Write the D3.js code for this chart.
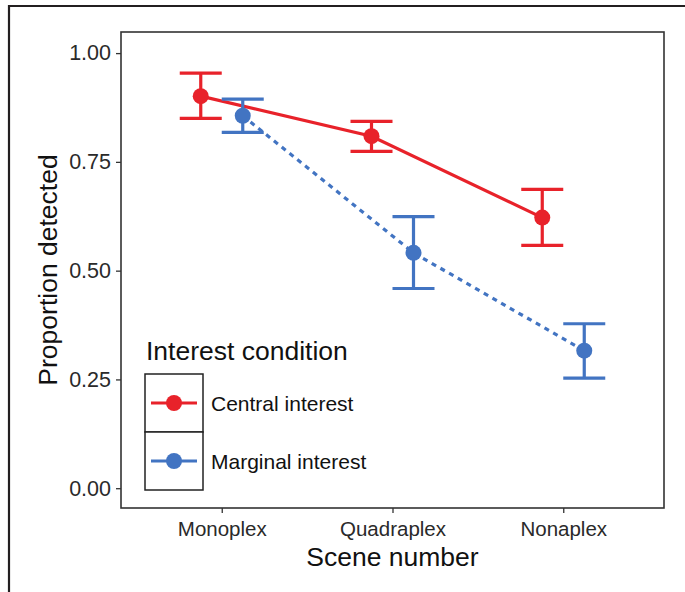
<!DOCTYPE html>
<html><head><meta charset="utf-8">
<script src="https://cdn.jsdelivr.net/npm/d3@7"></script>
<style>
html,body{margin:0;padding:0;background:#fff;}
svg{display:block;font-family:"Liberation Sans",Arial,sans-serif;}
</style></head>
<body>
<svg id="chart" width="685" height="592"></svg>
<script>
const scenes = ["Monoplex", "Quadraplex", "Nonaplex"];
const groups = ["Central interest", "Marginal interest"];
const centralMean = [0.901, 0.809, 0.622];
const centralLow  = [0.850, 0.774, 0.558];
const centralHigh = [0.954, 0.843, 0.687];
const marginalMean = [0.856, 0.541, 0.316];
const marginalLow  = [0.818, 0.459, 0.253];
const marginalHigh = [0.894, 0.624, 0.378];
const yTicks = [0, 0.25, 0.5, 0.75, 1.0];

const colors = {"Central interest": "#e8222a", "Marginal interest": "#4274c2"};
const series = [
  {name: groups[0], mean: centralMean, low: centralLow, high: centralHigh, dash: null, off: -1},
  {name: groups[1], mean: marginalMean, low: marginalLow, high: marginalHigh, dash: "5,5", off: 1}
];

const svg = d3.select("#chart");
// outer figure frame
svg.append("path").attr("d", "M9,592 L9,6 L685,6")
  .attr("fill", "none").attr("stroke", "#231f20").attr("stroke-width", 2.2);

const L = 121, R = 664, T = 32, B = 508;
const x = d3.scalePoint().domain(scenes).range([L, R]).padding(0.59);
const y = d3.scaleLinear().domain([-0.0455, 1.0485]).range([B, T]);
const dodge = 21;

// panel
svg.append("rect").attr("x", L).attr("y", T).attr("width", R - L).attr("height", B - T)
  .attr("fill", "#fff").attr("stroke", "#333").attr("stroke-width", 1.6);

// axes
const yAxis = svg.append("g").attr("transform", `translate(${L},0)`)
  .call(d3.axisLeft(y).tickValues(yTicks).tickFormat(d3.format(".2f")).tickSize(5).tickPadding(5));
const xAxis = svg.append("g").attr("transform", `translate(0,${B})`)
  .call(d3.axisBottom(x).tickSize(5).tickPadding(8));
[yAxis, xAxis].forEach(a => {
  a.select(".domain").remove();
  a.selectAll(".tick line").attr("stroke", "#333").attr("stroke-width", 1.3);
  a.selectAll(".tick text").attr("fill", "#2a2a2a")
    .style("font-family", "Liberation Sans, Arial, sans-serif");
});
yAxis.selectAll(".tick text").style("font-size", "21.5px");
xAxis.selectAll(".tick text").style("font-size", "20.5px");

// axis titles
svg.append("text").attr("x", (L + R) / 2).attr("y", 566).attr("text-anchor", "middle")
  .style("font-size", "26.5px").attr("fill", "#111").text("Scene number");
svg.append("text").attr("transform", `translate(57,270) rotate(-90)`)
  .attr("text-anchor", "middle").style("font-size", "26.5px").attr("fill", "#111")
  .text("Proportion detected");

// data
series.forEach(s => {
  const c = colors[s.name];
  const pts = scenes.map((sc, i) => ({px: x(sc) + s.off * dodge, m: s.mean[i], lo: s.low[i], hi: s.high[i]}));
  const line = d3.line().x(d => d.px).y(d => y(d.m));
  const p = svg.append("path").datum(pts).attr("d", line).attr("fill", "none")
    .attr("stroke", c).attr("stroke-width", 3.2);
  if (s.dash) p.attr("stroke-dasharray", s.dash);
  const g = svg.append("g").attr("stroke", c).attr("stroke-width", 3.2).attr("fill", "none");
  pts.forEach(d => {
    g.append("line").attr("x1", d.px).attr("x2", d.px).attr("y1", y(d.lo)).attr("y2", y(d.hi));
    g.append("line").attr("x1", d.px - 21).attr("x2", d.px + 21).attr("y1", y(d.lo)).attr("y2", y(d.lo));
    g.append("line").attr("x1", d.px - 21).attr("x2", d.px + 21).attr("y1", y(d.hi)).attr("y2", y(d.hi));
  });
  svg.append("g").selectAll("circle").data(pts).join("circle")
    .attr("cx", d => d.px).attr("cy", d => y(d.m)).attr("r", 8).attr("fill", c);
});

// legend
const lg = svg.append("g");
lg.append("text").attr("x", 146).attr("y", 360).style("font-size", "26.5px").attr("fill", "#111")
  .text("Interest condition");
groups.forEach((gname, i) => {
  const top = 374 + i * 58;
  lg.append("rect").attr("x", 145).attr("y", top).attr("width", 58).attr("height", 58)
    .attr("fill", "#fff").attr("stroke", "#222").attr("stroke-width", 1.5);
  lg.append("line").attr("x1", 151).attr("x2", 197).attr("y1", top + 29).attr("y2", top + 29)
    .attr("stroke", colors[gname]).attr("stroke-width", 3.2);
  lg.append("circle").attr("cx", 174).attr("cy", top + 29).attr("r", 8).attr("fill", colors[gname]);
  lg.append("text").attr("x", 211).attr("y", top + 37).style("font-size", "21px").attr("fill", "#111")
    .text(gname);
});
</script>
</body></html>
